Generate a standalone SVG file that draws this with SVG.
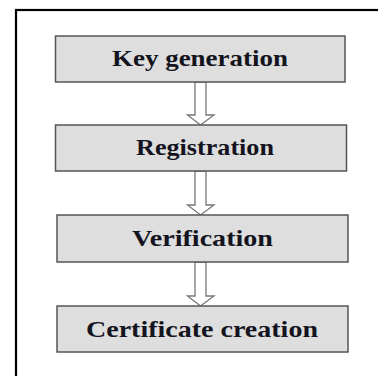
<svg xmlns="http://www.w3.org/2000/svg" width="378" height="376" viewBox="0 0 378 376">
<style>
.frame{fill:none;stroke:#000;stroke-width:2.2}
.box{fill:#dedede;stroke:#555;stroke-width:1.5}
.lbl{font-family:"Liberation Serif","Times New Roman",serif;font-weight:bold;font-size:23px;fill:#141420;text-anchor:middle}
.arr{fill:#fff;stroke:#777;stroke-width:1.3;stroke-linejoin:miter}
</style>
<rect width="378" height="376" fill="#fff"/>
<rect class="frame" x="16" y="10" width="380" height="380"/>
<g id="connectors">
<path class="arr" d="M195,82 V115 H187.5 L200.5,125 L214,115 H206 V82 Z"/>
<path class="arr" d="M195,171 V205 H187.5 L200.5,215 L214,205 H206 V171 Z"/>
<path class="arr" d="M195,262 V296 H187.5 L200.5,306 L214,296 H206 V262 Z"/>
</g>
<g id="key-generation">
<rect class="box" x="55.5" y="36" width="289.5" height="46"/>
<text class="lbl" x="200" y="65.5" textLength="176" lengthAdjust="spacingAndGlyphs">Key generation</text>
</g>
<g id="registration">
<rect class="box" x="55.5" y="125" width="291" height="46"/>
<text class="lbl" x="205" y="154.5" textLength="138" lengthAdjust="spacingAndGlyphs">Registration</text>
</g>
<g id="verification">
<rect class="box" x="57" y="215" width="291" height="47"/>
<text class="lbl" x="202.5" y="245.5" textLength="141" lengthAdjust="spacingAndGlyphs">Verification</text>
</g>
<g id="certificate-creation">
<rect class="box" x="57" y="306" width="291" height="46"/>
<text class="lbl" x="202" y="336.5" textLength="232" lengthAdjust="spacingAndGlyphs">Certificate creation</text>
</g>
</svg>
